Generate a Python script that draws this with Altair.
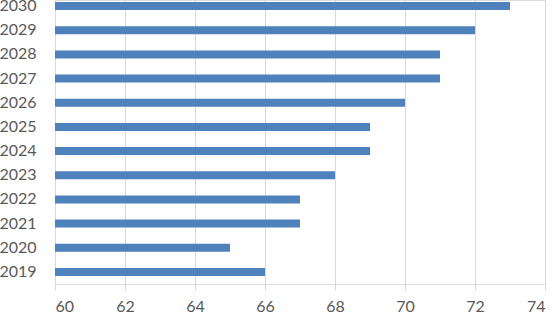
import altair as alt
import pandas as pd

years = ["2019", "2020", "2021", "2022", "2023", "2024", "2025", "2026", "2027", "2028", "2029", "2030"]
values = [66, 65, 67, 67, 68, 69, 69, 70, 71, 71, 72, 73]
x_ticks = [60, 62, 64, 66, 68, 70, 72, 74]

df = pd.DataFrame({"year": years, "value": values, "base": [60] * len(years)})

FONT = "Lato"
TXT = "#595959"

chart = alt.Chart(df).mark_bar(color="#4f81bd").encode(
    y=alt.Y("year:N", sort="descending", title=None,
            scale=alt.Scale(range=[-6, 284], paddingInner=0.67, paddingOuter=0.335),
            axis=alt.Axis(domain=False, ticks=False, grid=False, labelFont=FONT,
                          labelFontSize=16, labelColor=TXT, labelPadding=19)),
    x=alt.X("value:Q", title=None,
            scale=alt.Scale(domain=[60, 74], zero=False, nice=False),
            axis=alt.Axis(values=x_ticks, domain=False, ticks=False, grid=True,
                          gridColor="#d9d9d9", gridWidth=1, labelFont=FONT,
                          labelFontSize=16, labelColor=TXT, labelPadding=14)),
    x2="base:Q",
).properties(
    width=490, height=284,
    autosize=alt.AutoSizeParams(type="none"),
    padding={"left": 55, "top": 0, "right": 10, "bottom": 31},
).configure_view(stroke=None).configure(background="white")

chart.save("out.html", embed_options={"renderer": "svg", "actions": False})
